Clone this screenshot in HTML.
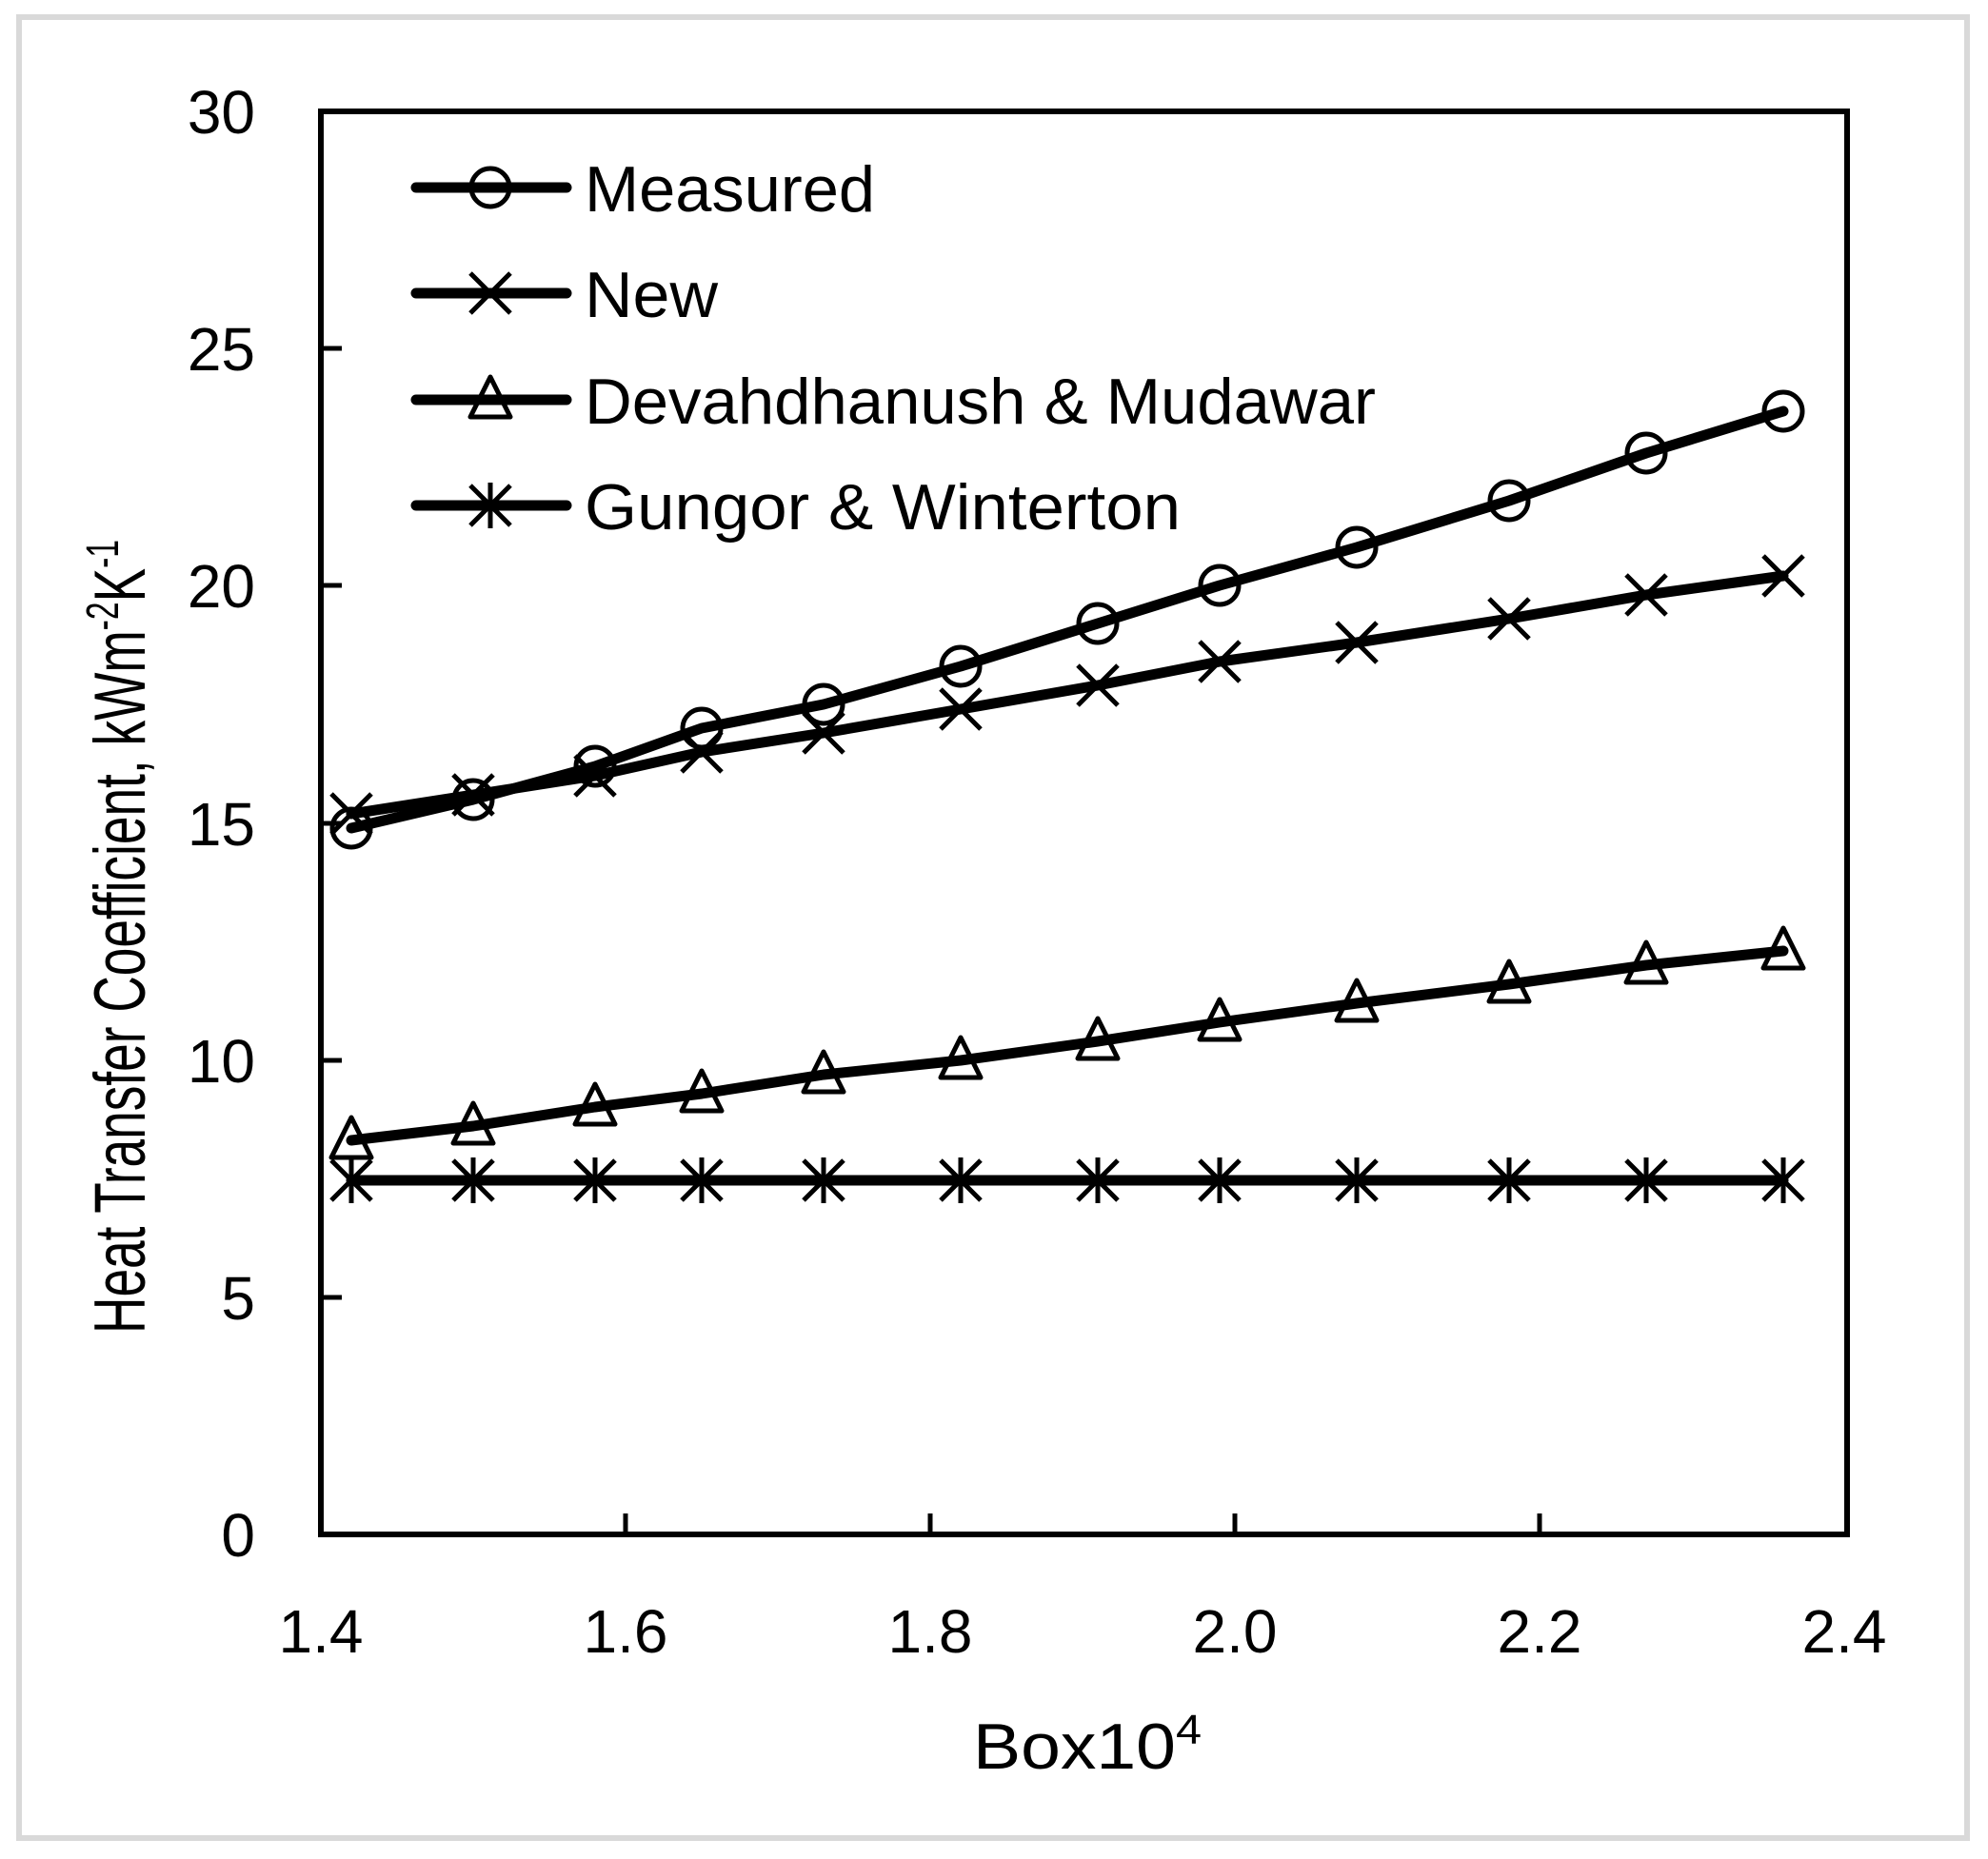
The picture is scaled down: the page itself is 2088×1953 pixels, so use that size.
<!DOCTYPE html>
<html><head><meta charset="utf-8"><style>html,body{margin:0;padding:0;background:#fff}svg{display:block}</style></head>
<body>
<svg width="2088" height="1953" viewBox="0 0 2088 1953" xmlns="http://www.w3.org/2000/svg" font-family="Liberation Sans, sans-serif">
<rect x="20" y="18" width="2046" height="1913" fill="#fff" stroke="#d9d9d9" stroke-width="6"/>
<rect x="337" y="117" width="1603" height="1495" fill="none" stroke="#000" stroke-width="6"/>
<g stroke="#000" stroke-width="5">
<line x1="337" y1="1363" x2="359" y2="1363"/><line x1="337" y1="1114" x2="359" y2="1114"/>
<line x1="337" y1="865" x2="359" y2="865"/><line x1="337" y1="615" x2="359" y2="615"/>
<line x1="337" y1="366" x2="359" y2="366"/>
<line x1="657" y1="1612" x2="657" y2="1590"/><line x1="977" y1="1612" x2="977" y2="1590"/>
<line x1="1297" y1="1612" x2="1297" y2="1590"/><line x1="1617" y1="1612" x2="1617" y2="1590"/>
</g>
<g font-size="64" text-anchor="end" fill="#000">
<text x="268" y="140">30</text><text x="268" y="389">25</text><text x="268" y="638">20</text>
<text x="268" y="888">15</text><text x="268" y="1137">10</text><text x="268" y="1386">5</text><text x="268" y="1635">0</text>
</g>
<g font-size="64" text-anchor="middle" fill="#000">
<text x="337" y="1736">1.4</text><text x="657" y="1736">1.6</text><text x="977" y="1736">1.8</text>
<text x="1297" y="1736">2.0</text><text x="1617" y="1736">2.2</text><text x="1937" y="1736">2.4</text>
</g>
<text x="1022" y="1858" font-size="68" fill="#000" textLength="240" lengthAdjust="spacingAndGlyphs">Box10<tspan font-size="44" dy="-26">4</tspan></text>
<text transform="translate(152,1401) rotate(-90)" font-size="76" fill="#000" textLength="834" lengthAdjust="spacingAndGlyphs">Heat Transfer Coefficient, kWm<tspan font-size="48" dy="-28">-2</tspan><tspan dy="28">K</tspan><tspan font-size="48" dy="-28">-1</tspan></text>

<defs>
<circle id="mc" r="20" fill="none" stroke="#000" stroke-width="5"/>
<path id="mx" d="M-21,-21L21,21M-21,21L21,-21" stroke="#000" stroke-width="5" fill="none"/>
<path id="mt" d="M0,-24L21,18L-21,18Z" stroke="#000" stroke-width="5" fill="none" stroke-linejoin="round"/>
<path id="ms" d="M-21,-21L21,21M-21,21L21,-21M0,-24L0,24" stroke="#000" stroke-width="5" fill="none"/>
</defs>

<g fill="none" stroke="#000" stroke-width="11" stroke-linejoin="round" stroke-linecap="round">
<polyline points="369,1240 497,1240 625,1240 737,1240 865,1240 1009,1240 1153,1240 1281,1240 1425,1240 1585,1240 1729,1240 1873,1240"/>
<polyline points="369,1198 497,1183 625,1163 737,1149 865,1129 1009,1114 1153,1094 1281,1074 1425,1054 1585,1034 1729,1014 1873,999"/>
<polyline points="369,855 497,835 625,815 737,790 865,770 1009,745 1153,720 1281,695 1425,675 1585,650 1729,625 1873,605"/>
<polyline points="369,870 497,840 625,805 737,765 865,740 1009,700 1153,655 1281,615 1425,575 1585,526 1729,476 1873,432"/>
</g>
<g>
<use href="#ms" x="369" y="1240"/><use href="#ms" x="497" y="1240"/><use href="#ms" x="625" y="1240"/><use href="#ms" x="737" y="1240"/><use href="#ms" x="865" y="1240"/><use href="#ms" x="1009" y="1240"/><use href="#ms" x="1153" y="1240"/><use href="#ms" x="1281" y="1240"/><use href="#ms" x="1425" y="1240"/><use href="#ms" x="1585" y="1240"/><use href="#ms" x="1729" y="1240"/><use href="#ms" x="1873" y="1240"/>
<use href="#mt" x="369" y="1198"/><use href="#mt" x="497" y="1183"/><use href="#mt" x="625" y="1163"/><use href="#mt" x="737" y="1149"/><use href="#mt" x="865" y="1129"/><use href="#mt" x="1009" y="1114"/><use href="#mt" x="1153" y="1094"/><use href="#mt" x="1281" y="1074"/><use href="#mt" x="1425" y="1054"/><use href="#mt" x="1585" y="1034"/><use href="#mt" x="1729" y="1014"/><use href="#mt" x="1873" y="999"/>
<use href="#mx" x="369" y="855"/><use href="#mx" x="497" y="835"/><use href="#mx" x="625" y="815"/><use href="#mx" x="737" y="790"/><use href="#mx" x="865" y="770"/><use href="#mx" x="1009" y="745"/><use href="#mx" x="1153" y="720"/><use href="#mx" x="1281" y="695"/><use href="#mx" x="1425" y="675"/><use href="#mx" x="1585" y="650"/><use href="#mx" x="1729" y="625"/><use href="#mx" x="1873" y="605"/>
<use href="#mc" x="369" y="870"/><use href="#mc" x="497" y="840"/><use href="#mc" x="625" y="805"/><use href="#mc" x="737" y="765"/><use href="#mc" x="865" y="740"/><use href="#mc" x="1009" y="700"/><use href="#mc" x="1153" y="655"/><use href="#mc" x="1281" y="615"/><use href="#mc" x="1425" y="575"/><use href="#mc" x="1585" y="526"/><use href="#mc" x="1729" y="476"/><use href="#mc" x="1873" y="432"/>
</g>

<g stroke="#000" stroke-width="11" stroke-linecap="round">
<line x1="437" y1="197" x2="595" y2="197"/><line x1="437" y1="308" x2="595" y2="308"/>
<line x1="437" y1="420" x2="595" y2="420"/><line x1="437" y1="531" x2="595" y2="531"/>
</g>
<use href="#mc" x="515" y="197"/><use href="#mx" x="515" y="308"/><use href="#mt" x="515" y="420"/><use href="#ms" x="515" y="531"/>
<g font-size="68" fill="#000">
<text x="614" y="222" textLength="305" lengthAdjust="spacingAndGlyphs">Measured</text>
<text x="614" y="333" textLength="140" lengthAdjust="spacingAndGlyphs">New</text>
<text x="614" y="445" textLength="831" lengthAdjust="spacingAndGlyphs">Devahdhanush &amp; Mudawar</text>
<text x="614" y="556" textLength="626" lengthAdjust="spacingAndGlyphs">Gungor &amp; Winterton</text>
</g>
</svg>
</body></html>
